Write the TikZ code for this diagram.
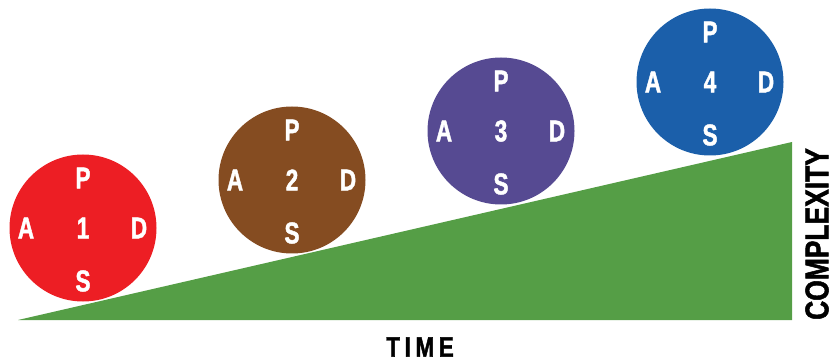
\documentclass[tikz,border=0pt]{standalone}
\usepackage{fontspec}
\setmainfont{Liberation Sans}
\newfontfamily\narrowfont[FakeStretch=0.75,BoldFeatures={FakeBold=1.5}]{Liberation Sans}
\newfontfamily\axisfont[FakeStretch=0.8,BoldFeatures={FakeBold=1.5}]{Liberation Sans}
\usetikzlibrary{positioning}

\definecolor{slopegreen}{HTML}{559E46}
\definecolor{pdsared}{HTML}{ED1E24}
\definecolor{pdsabrown}{HTML}{854C21}
\definecolor{pdsapurple}{HTML}{564A92}
\definecolor{pdsablue}{HTML}{1B5FAA}

\begin{document}
\begin{tikzpicture}[x=1pt,y=-1pt,
    ball/.style={circle,minimum size=147pt,inner sep=0pt},
    letter/.style={text=white,inner sep=0pt,
        font=\narrowfont\bfseries\fontsize{30}{30}\selectfont},
    axistext/.style={inner sep=0pt,
        font=\axisfont\bfseries\fontsize{33}{33}\selectfont}]
    \useasboundingbox (0,0) rectangle (832,363);

    % Rising complexity wedge
    \fill[slopegreen] (18,320) -- (792,320) -- (792,142) -- cycle;

    % PDSA cycles climbing the slope
    \foreach \n/\x/\y/\col in {1/83/228/pdsared, 2/292/180/pdsabrown,
                               3/501/131/pdsapurple, 4/710/82/pdsablue} {
        \node[ball,fill=\col] (c\n) at (\x,\y) {};
        \node[letter] (num\n) at (c\n.center) {\n};
        \node[letter] (p\n) at ([yshift=50pt]c\n.center) {P};
        \node[letter] (d\n) at ([xshift=56pt]c\n.center) {D};
        \node[letter] (s\n) at ([yshift=-53pt]c\n.center) {S};
        \node[letter] (a\n) at ([xshift=-57pt]c\n.center) {A};
    }

    % Axis labels
    \node[axistext,font=\axisfont\bfseries\fontsize{28}{28}\selectfont]
        (time) at (420,347) {T\,I\,M\,E};
    \node[axistext,rotate=90] (complexity) at (817,234) {COMPLEXITY};
\end{tikzpicture}
\end{document}
